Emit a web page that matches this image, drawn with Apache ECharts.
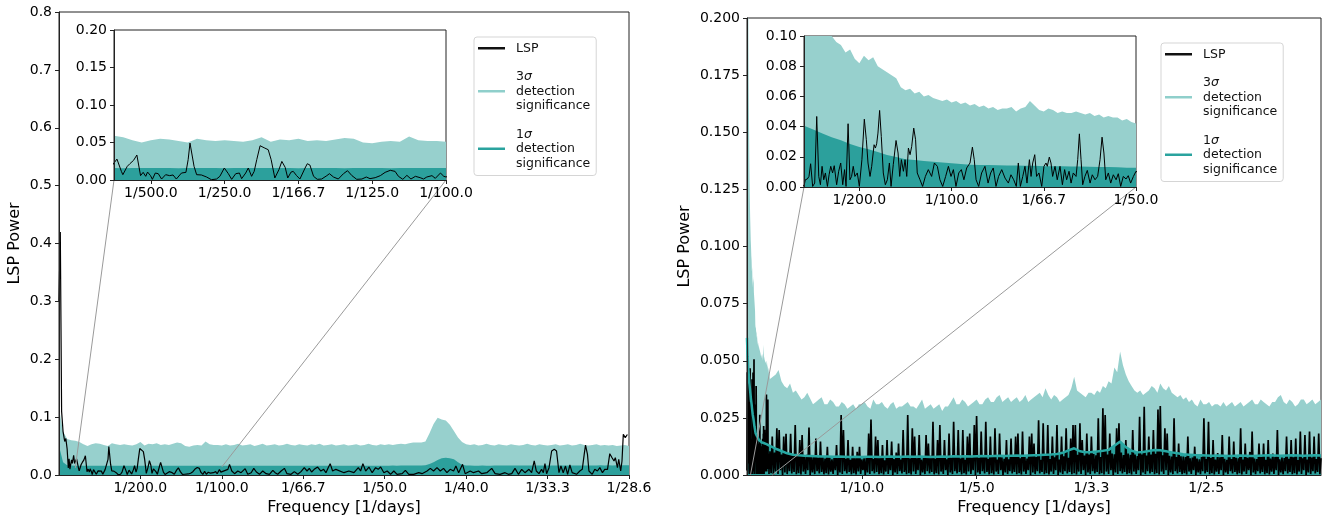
<!DOCTYPE html>
<html><head><meta charset="utf-8">
<script src="https://cdn.jsdelivr.net/npm/echarts@6/dist/echarts.min.js"></script>
<style>html,body{margin:0;padding:0;background:#fff}#c{width:1323px;height:521px}</style>
</head><body><div id="c"></div>
<script>
// ---------------- DATA ----------------
// Tick values (frequencies, 1/days)
const leftXTicks = [0.005, 0.01, 0.015, 0.02, 0.025, 0.03, 0.035];
const leftInsetXTicks = [0.002, 0.004, 0.006, 0.008, 0.01];
const rightXTicks = [0.1, 0.2, 0.3, 0.4];
const rightInsetXTicks = [0.005, 0.01, 0.015, 0.02];

// Left panel: significance levels sampled every 0.00025 from 0
const leftSigmaStart = 0, leftSigmaStep = 0.00025;
const leftSigma3 = [
0.115,0.075,0.062,0.060,0.059,0.057,0.053,0.050,0.053,0.055,
0.054,0.052,0.050,0.055,0.053,0.052,0.053,0.052,0.051,0.053,
0.057,0.051,0.054,0.053,0.055,0.052,0.053,0.052,0.054,0.056,
0.055,0.050,0.049,0.051,0.052,0.051,0.058,0.053,0.052,0.052,
0.051,0.053,0.051,0.052,0.054,0.051,0.052,0.053,0.050,0.052,
0.054,0.051,0.052,0.053,0.051,0.052,0.054,0.052,0.051,0.053,
0.052,0.051,0.053,0.052,0.054,0.051,0.052,0.053,0.051,0.052,
0.053,0.051,0.052,0.053,0.051,0.052,0.054,0.052,0.051,0.053,
0.052,0.053,0.052,0.053,0.054,0.053,0.055,0.056,0.056,0.056,
0.058,0.072,0.088,0.099,0.096,0.094,0.087,0.076,0.065,0.057,
0.053,0.052,0.053,0.051,0.052,0.054,0.052,0.051,0.053,0.052,
0.051,0.053,0.052,0.051,0.052,0.054,0.052,0.051,0.053,0.052,
0.051,0.052,0.053,0.051,0.052,0.053,0.051,0.052,0.054,0.052,
0.051,0.052,0.053,0.051,0.052,0.051,0.052,0.050,0.051,0.052,
0.050];
const leftSigma1 = [
0.050,0.022,0.017,0.0162,0.016,0.0158,0.016,0.0161,0.0159,0.016,
0.016,0.0158,0.016,0.0161,0.0159,0.016,0.0158,0.016,0.0159,0.016,
0.016,0.0161,0.0159,0.016,0.0158,0.016,0.0161,0.0159,0.016,0.0158,
0.016,0.0159,0.0161,0.016,0.0158,0.016,0.0159,0.016,0.0161,0.0159,
0.016,0.0158,0.016,0.0159,0.0161,0.016,0.0158,0.016,0.0159,0.016,
0.0161,0.0159,0.016,0.0158,0.016,0.0159,0.016,0.0161,0.0159,0.016,
0.0158,0.016,0.0159,0.016,0.0161,0.016,0.0159,0.016,0.0158,0.016,
0.0159,0.0161,0.016,0.0159,0.016,0.0158,0.016,0.0161,0.0159,0.016,
0.016,0.0161,0.0162,0.0161,0.0162,0.0163,0.0163,0.0164,0.0165,0.0166,
0.0168,0.019,0.022,0.026,0.029,0.030,0.029,0.027,0.022,0.0175,
0.0163,0.0162,0.016,0.0161,0.0162,0.016,0.0161,0.0162,0.0163,0.0162,
0.0163,0.0162,0.0163,0.0164,0.0163,0.0164,0.0163,0.0164,0.0165,0.0164,
0.0165,0.0164,0.0165,0.0166,0.0165,0.0164,0.0165,0.0166,0.0165,0.0166,
0.0166,0.0165,0.0166,0.0167,0.0166,0.0167,0.0166,0.0167,0.0168,0.0167,
0.0167];
// Left panel LSP [frequency, power]
const leftLsp = [
[0,0.30],[0.00008,0.42],[0.00016,0.11],[0.00025,0.075],[0.00035,0.058],[0.00042,0.063],[0.0005,0.045],[0.00057,0.012],[0.00062,0.028],[0.00067,0.010],[0.00072,0.012],[0.00077,0.026],[0.00082,0.020],[0.0009,0.034],[0.00096,0.020],
[0.00100,0.0182],[0.00108,0.0279],[0.00120,0.0115],[0.00124,0.0071],[0.00136,0.0182],[0.00143,0.0217],[0.00147,0.0204],[0.00153,0.0262],[0.00162,0.0333],[0.00172,0.0058],[0.00179,0.0102],[0.00186,0.0049],[0.00191,0.0106],[0.00199,0.0058],[0.00204,0.0009],[0.00212,0.0093],[0.00220,0.0084],[0.00229,0.0013],[0.00240,0.0071],[0.00251,0.0058],[0.00260,0.0067],[0.00269,0.0013],[0.00283,0.0093],[0.00295,0.0102],[0.00301,0.0271],[0.00306,0.0492],[0.00311,0.0466],[0.00317,0.0182],[0.00324,0.0071],[0.00337,0.0067],[0.00351,0.0040],[0.00364,0.0004],[0.00378,0.0013],[0.00387,0.0049],[0.00399,0.0160],[0.00410,0.0084],[0.00419,0.0009],[0.00430,0.0084],[0.00440,0.0093],[0.00446,0.0018],[0.00457,0.0093],[0.00464,0.0160],[0.00473,0.0049],[0.00480,0.0115],[0.00487,0.0271],[0.00496,0.0457],[0.00507,0.0430],[0.00518,0.0404],[0.00526,0.0271],[0.00536,0.0027],[0.00547,0.0137],[0.00555,0.0248],[0.00564,0.0169],[0.00571,0.0027],[0.00580,0.0106],[0.00586,0.0115],[0.00595,0.0058],[0.00604,0.0013],[0.00618,0.0160],[0.00624,0.0217],[0.00631,0.0200],[0.00641,0.0049],[0.00651,0.0009],[0.00663,0.0013],[0.00677,0.0058],[0.00684,0.0084],[0.00695,0.0040],[0.00708,0.0013],[0.00722,0.0084],[0.00733,0.0124],[0.00745,0.0058],[0.00758,0.0009],[0.00772,0.0013],[0.00784,0.0040],[0.00794,0.0018],[0.00808,0.0031],[0.00822,0.0058],[0.00835,0.0102],[0.00849,0.0129],[0.00862,0.0115],[0.00871,0.0049],[0.00883,0.0009],[0.00894,0.0062],[0.00905,0.0013],[0.00917,0.0049],[0.00930,0.0031],[0.00939,0.0013],[0.00948,0.0040],[0.00962,0.0058],[0.00971,0.0022],[0.00985,0.0093],[0.00994,0.0049],[0.01000,0.0040],
[0.01037,0.0098],[0.01047,0.0184],[0.01061,0.0069],[0.01078,0.0023],[0.01098,0.0069],[0.01118,0.0040],[0.01143,0.0109],[0.01159,0.0012],[0.01180,0.0040],[0.01196,0.0115],[0.01212,0.0052],[0.01231,0.0012],[0.01251,0.0069],[0.01272,0.0023],[0.01292,0.0012],[0.01313,0.0081],[0.01327,0.0040],[0.01343,0.0012],[0.01364,0.0069],[0.01384,0.0115],[0.01400,0.0023],[0.01425,0.0012],[0.01445,0.0058],[0.01466,0.0012],[0.01486,0.0058],[0.01506,0.0127],[0.01523,0.0069],[0.01537,0.0115],[0.01551,0.0052],[0.01567,0.0098],[0.01588,0.0138],[0.01608,0.0069],[0.01625,0.0098],[0.01639,0.0040],[0.01653,0.0127],[0.01665,0.0196],[0.01680,0.0069],[0.01700,0.0098],
[0.01750,0.0040],[0.01780,0.0069],[0.01811,0.0040],[0.01838,0.0127],[0.01852,0.0069],[0.01866,0.0196],[0.01883,0.0069],[0.01903,0.0138],[0.01923,0.0040],[0.01944,0.0127],[0.01960,0.0098],[0.01975,0.0138],[0.01995,0.0040],[0.02015,0.0069],[0.02036,0.0012],[0.02056,0.0069],[0.02076,0.0012],[0.02107,0.0023],[0.02127,0.0081],[0.02148,0.0012],[0.02178,0.0012],[0.02209,0.0040],[0.02229,0.0023],[0.02260,0.0069],[0.02280,0.0115],[0.02300,0.0069],[0.02321,0.0127],[0.02341,0.0069],[0.02361,0.0115],[0.02382,0.0040],[0.02402,0.0098],[0.02423,0.0069],[0.02437,0.0155],[0.02454,0.0040],[0.02478,0.0184],[0.02494,0.0023],[0.02525,0.0069],[0.02545,0.0040],[0.02576,0.0069],[0.02596,0.0023],[0.02627,0.0040],[0.02657,0.0115],[0.02678,0.0023],[0.02708,0.0012],[0.02739,0.0040],[0.02759,0.0012],[0.02780,0.0023],[0.02800,0.0115],[0.02821,0.0012],[0.02841,0.0098],[0.02861,0.0040],[0.02886,0.0098],[0.02902,0.0040],[0.02918,0.0242],[0.02931,0.0069],[0.02947,0.0023],[0.02963,0.0098],[0.02974,0.0040],[0.02984,0.0196],[0.02994,0.0023],[0.03009,0.0127],[0.03025,0.0415],[0.03041,0.0443],[0.03055,0.0415],[0.03070,0.0040],[0.03082,0.0155],[0.03096,0.0040],[0.03110,0.0155],[0.03123,0.0012],[0.03137,0.0173],[0.03151,0.0040],[0.03178,0.0012],[0.03198,0.0069],[0.03213,0.0098],[0.03225,0.0357],[0.03233,0.0518],[0.03245,0.0357],[0.03254,0.0069],[0.03274,0.0012],[0.03290,0.0098],[0.03306,0.0069],[0.03321,0.0127],[0.03337,0.0040],[0.03351,0.0098],[0.03368,0.0098],[0.03382,0.0368],[0.03396,0.0299],[0.03408,0.0242],[0.03416,0.0299],[0.03429,0.0127],[0.03437,0.0271],[0.03449,0.0069],[0.03457,0.0242],[0.03465,0.0702],[0.03477,0.0645],[0.03490,0.0700]
];

// Right panel: fine significance (0 - 0.02)
const rightSigma3FineStart = 0, rightSigma3FineStep = 0.00025;
const rightSigma3Fine = [
0.40,0.34,0.30,0.26,0.22,0.19,0.17,0.155,0.14,0.128,
0.12,0.113,0.108,0.103,0.100,0.096,0.094,0.089,0.091,0.085,
0.082,0.087,0.084,0.086,0.080,0.078,0.076,0.074,0.072,0.066,
0.064,0.065,0.062,0.063,0.060,0.061,0.059,0.058,0.057,0.058,
0.056,0.057,0.055,0.056,0.054,0.055,0.053,0.054,0.052,0.053,
0.051,0.052,0.052,0.053,0.050,0.052,0.053,0.057,0.054,0.051,
0.050,0.052,0.051,0.049,0.050,0.049,0.049,0.050,0.049,0.048,
0.049,0.047,0.048,0.046,0.047,0.046,0.046,0.044,0.045,0.043,
0.042];
const rightSigma1FineStart = 0, rightSigma1FineStep = 0.0005;
const rightSigma1Fine = [
0.060,0.052,0.047,0.044,0.0405,0.038,0.0355,0.033,0.031,0.0285,
0.0265,0.025,0.0232,0.0212,0.0198,0.0183,0.0178,0.0172,0.0168,0.0162,
0.0157,0.0153,0.0148,0.0146,0.0145,0.0144,0.0143,0.0142,0.0141,0.014,
0.0138,0.0138,0.0137,0.0136,0.0135,0.0134,0.0133,0.0132,0.0130,0.0128,
0.0127];
// Right panel: coarse 3-sigma (0.025 - 0.5, every 0.0025)
const rightSigma3CoarseStart = 0.025, rightSigma3CoarseStep = 0.0025;
const rightSigma3Coarse = [
0.044,0.046,0.041,0.039,0.038,0.040,0.036,0.037,0.035,0.033,
0.034,0.036,0.0335,0.031,0.032,0.033,0.034,0.031,0.031,0.033,
0.032,0.030,0.030,0.032,0.031,0.029,0.030,0.031,0.029,0.031,
0.031,0.032,0.030,0.029,0.033,0.031,0.031,0.032,0.030,0.029,
0.031,0.032,0.029,0.030,0.030,0.031,0.032,0.030,0.030,0.029,
0.031,0.033,0.029,0.030,0.031,0.029,0.030,0.031,0.028,0.030,
0.030,0.032,0.034,0.031,0.031,0.033,0.032,0.030,0.031,0.032,
0.033,0.031,0.031,0.033,0.034,0.032,0.032,0.034,0.035,0.032,
0.033,0.034,0.032,0.033,0.034,0.032,0.033,0.035,0.032,0.033,
0.034,0.035,0.036,0.034,0.038,0.035,0.033,0.035,0.034,0.032,
0.033,0.034,0.035,0.038,0.043,0.037,0.036,0.035,0.034,0.036,
0.036,0.035,0.037,0.036,0.039,0.038,0.041,0.040,0.047,0.045,
0.054,0.048,0.044,0.041,0.039,0.037,0.036,0.037,0.035,0.036,
0.037,0.039,0.038,0.036,0.040,0.038,0.037,0.039,0.036,0.035,
0.034,0.035,0.033,0.034,0.032,0.033,0.031,0.030,0.033,0.031,
0.031,0.032,0.030,0.031,0.031,0.030,0.032,0.030,0.031,0.032,
0.030,0.031,0.032,0.030,0.031,0.032,0.033,0.031,0.031,0.033,
0.032,0.031,0.030,0.032,0.032,0.034,0.035,0.032,0.031,0.033,
0.032,0.030,0.031,0.033,0.033,0.031,0.032,0.033,0.031,0.032,
0.033];
// Right panel: coarse 1-sigma (0.025 - 0.5, every 0.005)
const rightSigma1CoarseStart = 0.025, rightSigma1CoarseStep = 0.005;
const rightSigma1Coarse = [
0.0115,0.0105,0.0095,0.0089,0.0086,0.0084,0.0083,0.0082,0.0081,0.0081,
0.0080,0.0081,0.0080,0.0079,0.0080,0.0079,0.0080,0.0080,0.0079,0.0080,
0.0081,0.0080,0.0080,0.0081,0.0080,0.0081,0.0080,0.0079,0.0080,0.0081,
0.0080,0.0082,0.0081,0.0082,0.0081,0.0082,0.0083,0.0082,0.0083,0.0084,
0.0083,0.0084,0.0085,0.0084,0.0085,0.0086,0.0087,0.0089,0.0090,0.0092,
0.0097,0.0108,0.0117,0.0104,0.0100,0.0101,0.0103,0.0106,0.0110,0.0128,
0.0146,0.0122,0.0106,0.0099,0.0101,0.0105,0.0109,0.0108,0.0104,0.0099,
0.0095,0.0091,0.0089,0.0087,0.0086,0.0085,0.0084,0.0085,0.0084,0.0083,
0.0084,0.0085,0.0084,0.0083,0.0084,0.0085,0.0086,0.0085,0.0084,0.0085,
0.0086,0.0085,0.0084,0.0085,0.0086,0.0085];
// Right panel LSP, fine part [frequency, power] (0 - 0.02)
const rightLspFine = [
[0,0.002],[0.0003,0.045],[0.0006,0.005],[0.0009,0.040],[0.0012,0.008],[0.0015,0.032],[0.0018,0.003],
[0.00200,0.0004],[0.00207,0.0048],[0.00218,0.0053],[0.00227,0.0070],[0.00236,0.0154],[0.00247,0.0004],[0.00258,0.0026],[0.00269,0.0467],[0.00280,0.0070],[0.00289,0.0015],[0.00298,0.0137],[0.00307,0.0048],[0.00316,0.0093],[0.00327,0.0004],[0.00336,0.0081],[0.00345,0.0137],[0.00355,0.0093],[0.00364,0.0141],[0.00377,0.0015],[0.00388,0.0104],[0.00399,0.0159],[0.00410,0.0015],[0.00420,0.0115],[0.00428,0.0004],[0.00439,0.0419],[0.00449,0.0048],[0.00458,0.0070],[0.00467,0.0137],[0.00476,0.0070],[0.00489,0.0093],[0.00500,0.0004],[0.00514,0.0181],[0.00527,0.0449],[0.00538,0.0313],[0.00547,0.0159],[0.00558,0.0070],[0.00567,0.0137],[0.00580,0.0280],[0.00587,0.0258],[0.00594,0.0286],[0.00601,0.0357],[0.00610,0.0507],[0.00619,0.0335],[0.00630,0.0093],[0.00641,0.0015],[0.00652,0.0048],[0.00663,0.0159],[0.00672,0.0004],[0.00684,0.0148],[0.00699,0.0308],[0.00710,0.0225],[0.00719,0.0070],[0.00728,0.0181],[0.00739,0.0104],[0.00748,0.0181],[0.00757,0.0070],[0.00766,0.0258],[0.00775,0.0214],[0.00784,0.0269],[0.00795,0.0390],[0.00805,0.0313],[0.00814,0.0093],[0.00829,0.0048],[0.00843,0.0004],[0.00858,0.0070],[0.00874,0.0115],[0.00892,0.0070],[0.00907,0.0159],[0.00923,0.0137],[0.00937,0.0048],[0.00952,0.0004],[0.00968,0.0070],[0.00983,0.0137],[0.00997,0.0070],[0.01010,0.0115],[0.01024,0.0004],[0.01039,0.0093],[0.01053,0.0115],[0.01067,0.0048],[0.01082,0.0126],[0.01100,0.0159],[0.01113,0.0264],[0.01123,0.0181],[0.01133,0.0048],[0.01147,0.0004],[0.01163,0.0093],[0.01181,0.0137],[0.01198,0.0026],[0.01212,0.0093],[0.01226,0.0126],[0.01241,0.0004],[0.01255,0.0070],[0.01272,0.0115],[0.01290,0.0059],[0.01308,0.0026],[0.01322,0.0081],[0.01337,0.0048],[0.01351,0.0004],[0.01362,0.0159],[0.01373,0.0004],[0.01386,0.0070],[0.01398,0.0137],[0.01409,0.0026],[0.01422,0.0181],[0.01431,0.0070],[0.01440,0.0159],[0.01451,0.0214],[0.01461,0.0070],[0.01474,0.0093],[0.01489,0.0004],[0.01501,0.0137],[0.01512,0.0159],[0.01519,0.0137],[0.01530,0.0198],[0.01539,0.0159],[0.01548,0.0070],[0.01561,0.0137],[0.01573,0.0048],[0.01588,0.0137],[0.01601,0.0015],[0.01613,0.0115],[0.01624,0.0048],[0.01637,0.0104],[0.01648,0.0026],[0.01660,0.0093],[0.01675,0.0070],[0.01684,0.0181],[0.01693,0.0352],[0.01702,0.0181],[0.01711,0.0015],[0.01723,0.0070],[0.01736,0.0110],[0.01751,0.0026],[0.01763,0.0081],[0.01778,0.0048],[0.01792,0.0070],[0.01805,0.0181],[0.01816,0.0330],[0.01826,0.0225],[0.01836,0.0048],[0.01850,0.0093],[0.01863,0.0026],[0.01877,0.0081],[0.01892,0.0048],[0.01904,0.0088],[0.01917,0.0004],[0.01931,0.0070],[0.01946,0.0053],[0.01958,0.0075],[0.01971,0.0026],[0.01986,0.0070],[0.02000,0.0104]
];
// Right panel LSP, dense part sampled every 0.001 from 0.021
const rightLspCoarseStart = 0.021, rightLspCoarseStep = 0.001;
const rightLspCoarse = [
0.0008,0.0168,0.0002,0.0098,0.0015,0.0204,0.0005,0.0197,0.0021,0.0090,0.0000,0.0168,0.0011,0.018,0.0004,0.0094,0.0017,0.018,0.0007,0.0088,
0.0013,0.0219,0.0003,0.0085,0.0008,0.0153,0.0002,0.0175,0.0015,0.0082,0.0005,0.0088,0.0021,0.0208,0.0000,0.0079,0.0011,0.0086,0.0004,0.016,
0.0017,0.0076,0.0007,0.0146,0.0013,0.0081,0.0003,0.0072,0.0008,0.0124,0.0002,0.0078,0.0015,0.0069,0.0005,0.0083,0.0021,0.0131,0.0000,0.0074,
0.0011,0.0262,0.0004,0.0197,0.0017,0.0071,0.0007,0.0153,0.0013,0.0066,0.0003,0.0124,0.0008,0.0077,0.0002,0.0102,0.0015,0.0124,0.0005,0.0068,
0.0021,0.0073,0.0000,0.0080,0.0011,0.0182,0.0004,0.0243,0.0017,0.0070,0.0007,0.0168,0.0013,0.0153,0.0003,0.0075,0.0008,0.0131,0.0002,0.0064,
0.0015,0.0153,0.0005,0.0079,0.0021,0.0146,0.0000,0.0070,0.0011,0.0098,0.0004,0.0138,0.0017,0.0067,0.0007,0.0197,0.0013,0.0074,0.0003,0.0262,
0.0008,0.0072,0.0002,0.0204,0.0015,0.0168,0.0005,0.0073,0.0021,0.0175,0.0000,0.0067,0.0011,0.0081,0.0004,0.0175,0.0017,0.0138,0.0007,0.0084,
0.0013,0.0233,0.0003,0.0071,0.0008,0.0153,0.0002,0.0219,0.0015,0.0078,0.0005,0.0153,0.0021,0.0069,0.0000,0.0182,0.0011,0.0076,0.0004,0.0233,
0.0017,0.0080,0.0007,0.0197,0.0013,0.0072,0.0003,0.0197,0.0008,0.0066,0.0002,0.0168,0.0015,0.0182,0.0005,0.0076,0.0021,0.0219,0.0000,0.0258,
0.0011,0.0074,0.0004,0.019,0.0017,0.0079,0.0007,0.0233,0.0013,0.0070,0.0003,0.0168,0.0008,0.0083,0.0002,0.0204,0.0015,0.0068,0.0005,0.0182,
0.0021,0.0077,0.0000,0.0071,0.0011,0.0153,0.0004,0.0069,0.0017,0.016,0.0007,0.0081,0.0013,0.0168,0.0003,0.0182,0.0008,0.0073,0.0002,0.019,
0.0015,0.0079,0.0005,0.0072,0.0021,0.0168,0.0000,0.0182,0.0011,0.0138,0.0004,0.0079,0.0017,0.024,0.0007,0.0066,0.0013,0.0226,0.0003,0.0083,
0.0008,0.0219,0.0002,0.0070,0.0015,0.0168,0.0005,0.0077,0.0021,0.0219,0.0000,0.0068,0.0011,0.0168,0.0004,0.0082,0.0017,0.0204,0.0007,0.0075,
0.0013,0.016,0.0003,0.0219,0.0008,0.0219,0.0002,0.0088,0.0015,0.0226,0.0005,0.0153,0.0021,0.0085,0.0000,0.0182,0.0011,0.0090,0.0004,0.0168,
0.0017,0.0092,0.0007,0.0086,0.0013,0.0248,0.0003,0.0079,0.0008,0.0292,0.0002,0.0262,0.0015,0.0089,0.0005,0.0182,0.0021,0.0094,0.0000,0.0091,
0.0011,0.0204,0.0004,0.0226,0.0017,0.0098,0.0007,0.0087,0.0013,0.0153,0.0003,0.0094,0.0008,0.0088,0.0002,0.0197,0.0015,0.0090,0.0005,0.0083,
0.0021,0.0255,0.0000,0.0090,0.0011,0.0299,0.0004,0.0085,0.0017,0.0168,0.0007,0.0089,0.0013,0.0197,0.0003,0.0093,0.0008,0.0287,0.0002,0.0302,
0.0015,0.0086,0.0005,0.0204,0.0021,0.0182,0.0000,0.0084,0.0011,0.0081,0.0004,0.0248,0.0017,0.0079,0.0007,0.0138,0.0013,0.0082,0.0003,0.0081,
0.0008,0.0078,0.0002,0.0168,0.0015,0.0073,0.0005,0.0076,0.0021,0.0124,0.0000,0.0072,0.0011,0.0069,0.0004,0.0079,0.0017,0.0248,0.0007,0.0070,
0.0013,0.0233,0.0003,0.0074,0.0008,0.0153,0.0002,0.0068,0.0015,0.0096,0.0005,0.0077,0.0021,0.0175,0.0000,0.0071,0.0011,0.0066,0.0004,0.0168,
0.0017,0.0070,0.0007,0.0146,0.0013,0.0075,0.0003,0.0073,0.0008,0.0204,0.0002,0.0067,0.0015,0.0138,0.0005,0.0075,0.0021,0.0101,0.0000,0.019,
0.0011,0.0072,0.0004,0.0070,0.0017,0.0138,0.0007,0.0078,0.0013,0.0138,0.0003,0.0066,0.0008,0.0153,0.0002,0.0072,0.0015,0.0094,0.0005,0.0080,
0.0021,0.0197,0.0000,0.0069,0.0011,0.0076,0.0004,0.0074,0.0017,0.0168,0.0007,0.0071,0.0013,0.0153,0.0003,0.0077,0.0008,0.016,0.0002,0.0065,
0.0015,0.019,0.0005,0.0073,0.0021,0.0175,0.0000,0.0068,0.0011,0.019,0.0004,0.0076,0.0017,0.0168,0.0007,0.0070,0.0013,0.0182,0.0003,0.0074];

// Zoom connector end points: [inset corner (inset axes), target (main axes)]
const leftConnectors = [[[0.001, 0], [0.001, 0.012]], [[0.01, 0], [0.01, 0.014]]];
const rightConnectors = [[[0.002, 0], [0.003, 0]], [[0.02, 0], [0.022, 0]]];

// ---------------- BUILD ----------------
function gridPairs(vals, start, step) {
  return vals.map((v, i) => [+(start + i * step).toFixed(6), v]);
}
const L3 = gridPairs(leftSigma3, leftSigmaStart, leftSigmaStep);
const L1 = gridPairs(leftSigma1, leftSigmaStart, leftSigmaStep);
const R3 = gridPairs(rightSigma3Fine, rightSigma3FineStart, rightSigma3FineStep)
  .concat(gridPairs(rightSigma3Coarse, rightSigma3CoarseStart, rightSigma3CoarseStep));
const R1 = gridPairs(rightSigma1Fine, rightSigma1FineStart, rightSigma1FineStep)
  .concat(gridPairs(rightSigma1Coarse, rightSigma1CoarseStart, rightSigma1CoarseStep));
const RL = rightLspFine.concat(gridPairs(rightLspCoarse, rightLspCoarseStart, rightLspCoarseStep));

const LIGHT = '#97d0cd', DARK = '#2ca09c', LINE1 = '#27a7a2';
const FONT = 'DejaVu Sans';
const N_LSP = 'LSP', N_3 = '3σ detection significance', N_1 = '1σ detection significance';
const fmtFreq = v => '1/' + (1 / v).toFixed(1);
const labelStyle = { fontFamily: FONT, fontSize: 14, color: '#000' };

function xAx(grid, min, max, ticks, extra) {
  return Object.assign({
    type: 'value', gridIndex: grid, min: min, max: max, z: grid % 2 ? 26 : 6,
    axisLine: { show: true, onZero: false, lineStyle: { color: '#222', width: 1 } },
    axisTick: { show: true, length: 4, customValues: ticks, lineStyle: { color: '#222', width: 1 } },
    axisLabel: Object.assign({ customValues: ticks, formatter: fmtFreq, margin: 6, hideOverlap: false, showMinLabel: true, showMaxLabel: true }, labelStyle),
    splitLine: { show: false }
  }, extra || {});
}
function yAx(grid, max, interval, dec, extra) {
  return Object.assign({
    type: 'value', gridIndex: grid, min: 0, max: max, interval: interval, z: grid % 2 ? 26 : 6,
    axisLine: { show: true, onZero: false, lineStyle: { color: '#222', width: 1 } },
    axisTick: { show: true, length: 4, lineStyle: { color: '#222', width: 1 } },
    axisLabel: Object.assign({ formatter: v => v.toFixed(dec), margin: 7 }, labelStyle),
    splitLine: { show: false }
  }, extra || {});
}
const xName = { name: 'Frequency [1/days]', nameLocation: 'middle', nameGap: 25, nameTextStyle: { fontFamily: FONT, fontSize: 16, color: '#000' } };
function yName(gap) { return { name: 'LSP Power', nameLocation: 'middle', nameGap: gap, nameRotate: 90, nameTextStyle: { fontFamily: FONT, fontSize: 16, color: '#000' } }; }

function area(name, data, ax, color, z) {
  return { name: name, type: 'line', data: data, xAxisIndex: ax, yAxisIndex: ax, symbol: 'none', z: z,
    lineStyle: { width: 0, color: color }, itemStyle: { color: color }, areaStyle: { color: color, opacity: 1 }, clip: true, silent: true };
}
function line(name, data, ax, color, w, z) {
  return { name: name, type: 'line', data: data, xAxisIndex: ax, yAxisIndex: ax, symbol: 'none', z: z,
    lineStyle: { width: w, color: color }, itemStyle: { color: color }, clip: true, silent: true };
}
function legendFmt(name) {
  if (name === N_LSP) return 'LSP';
  return (name === N_3 ? '3' : '1') + '{i|σ}\ndetection\nsignificance';
}
function legend(left, top) {
  return {
    left: left, top: top, orient: 'vertical', z: 40, selectedMode: false,
    itemWidth: 27, itemHeight: 2.5, itemGap: 14,
    padding: [4, 6, 5, 4], backgroundColor: '#fff', borderColor: '#d5d5d5', borderWidth: 1, borderRadius: 3,
    data: [
      { name: N_LSP, icon: 'rect', itemStyle: { color: '#111' } },
      { name: N_3, icon: 'rect', itemStyle: { color: '#8fcfcb' } },
      { name: N_1, icon: 'rect', itemStyle: { color: '#2aa39e' } }
    ],
    formatter: legendFmt,
    textStyle: { fontFamily: FONT, fontSize: 12.5, lineHeight: 14.5, color: '#111', padding: [0, 0, 0, 6],
      rich: { i: { fontFamily: FONT, fontStyle: 'italic', fontSize: 12.5, lineHeight: 14.5, color: '#111' } } }
  };
}

const option = {
  animation: false,
  textStyle: { fontFamily: FONT },
  grid: [
    { left: 59, top: 12, width: 570, height: 463, show: true, borderColor: '#222', borderWidth: 1, backgroundColor: 'rgba(0,0,0,0)', z: 0 },
    { left: 114, top: 30, width: 332, height: 150, show: true, borderColor: '#222', borderWidth: 1, backgroundColor: '#fff', z: 20 },
    { left: 747, top: 18, width: 574, height: 457, show: true, borderColor: '#222', borderWidth: 1, backgroundColor: 'rgba(0,0,0,0)', z: 0 },
    { left: 804, top: 36, width: 332, height: 151, show: true, borderColor: '#222', borderWidth: 1, backgroundColor: '#fff', z: 20 }
  ],
  xAxis: [
    xAx(0, 0, 0.035, leftXTicks, xName),
    xAx(1, 0.001, 0.01, leftInsetXTicks),
    xAx(2, 0, 0.5, rightXTicks, xName),
    xAx(3, 0.002, 0.02, rightInsetXTicks)
  ],
  yAxis: [
    yAx(0, 0.8, 0.1, 1, yName(36)),
    yAx(1, 0.2, 0.05, 2),
    yAx(2, 0.2, 0.025, 3, yName(54)),
    yAx(3, 0.1, 0.02, 2)
  ],
  legend: [legend(474, 37), legend(1161, 43)],
  series: [
    area(N_3, L3, 0, LIGHT, 2), area(N_1, L1, 0, DARK, 3), line(N_LSP, leftLsp, 0, '#000', 1.2, 4),
    area(N_3, L3, 1, LIGHT, 22), area(N_1, L1, 1, DARK, 23), line(N_LSP, leftLsp, 1, '#000', 1, 24),
    area(N_3, R3, 2, LIGHT, 2), area(N_1, R1, 2, DARK, 3), line(N_LSP, RL, 2, '#000', 1.7, 4), line(N_1, R1, 2, LINE1, 2.5, 5),
    area(N_3, R3, 3, LIGHT, 22), area(N_1, R1, 3, DARK, 23), line(N_LSP, RL, 3, '#000', 1, 24)
  ]
};

const chart = echarts.init(document.getElementById('c'), null, { renderer: 'canvas' });
chart.setOption(option);

function connectorLines(insetAx, mainAx, pairs) {
  return pairs.map(p => {
    const a = chart.convertToPixel({ xAxisIndex: insetAx, yAxisIndex: insetAx }, p[0]);
    const b = chart.convertToPixel({ xAxisIndex: mainAx, yAxisIndex: mainAx }, p[1]);
    return { type: 'line', z: 10, silent: true, shape: { x1: a[0], y1: a[1], x2: b[0], y2: b[1] },
      style: { stroke: '#9a9a9a', lineWidth: 1 } };
  });
}
chart.setOption({ graphic: connectorLines(1, 0, leftConnectors).concat(connectorLines(3, 2, rightConnectors)) });
</script></body></html>
